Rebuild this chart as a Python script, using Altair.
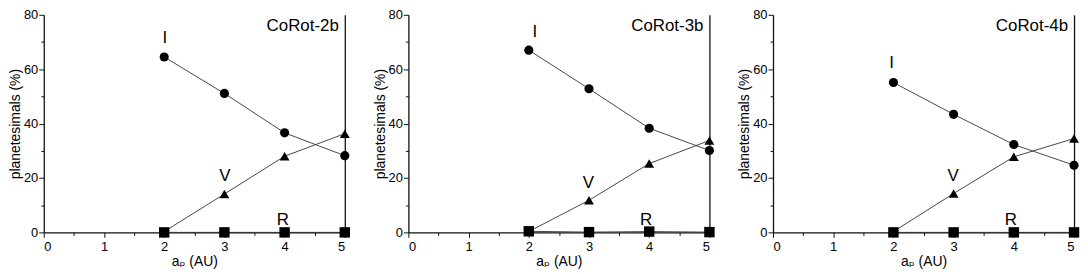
import altair as alt
import pandas as pd

# ---------------- data ----------------
panels = ["CoRot-2b", "CoRot-3b", "CoRot-4b"]
ap = [2, 3, 4, 5]
series = ["I", "V", "R"]
I_vals = [[64.5, 51.1, 36.6, 28.2], [67.0, 52.8, 38.3, 30.1], [55.1, 43.4, 32.3, 24.7]]
V_vals = [[0.3, 14.1, 28.0, 36.3], [0.3, 11.8, 25.3, 33.8], [0.3, 14.3, 27.8, 34.5]]
R_vals = [[0.0, 0.0, 0.0, 0.0], [0.4, 0.1, 0.3, 0.1], [0.0, 0.0, 0.0, 0.0]]
label_x = [[2.01, 3.01, 3.97], [2.10, 2.99, 3.95], [1.97, 2.99, 3.95]]
label_y = [[69.6, 18.8, 2.6], [72.0, 16.4, 2.6], [60.3, 18.8, 2.6]]
x_ticks = [0, 0.5, 1, 1.5, 2, 2.5, 3, 3.5, 4, 4.5, 5]
y_ticks = [0, 10, 20, 30, 40, 50, 60, 70, 80]
X_DOMAIN = [0, 5]
Y_DOMAIN = [0, 80]

FONT = "Liberation Sans, Arial, DejaVu Sans"
W, H = 303, 219


def panel_chart(k):
    rows = []
    for s, vals in (("R", R_vals), ("V", V_vals), ("I", I_vals)):
        for x, y in zip(ap, vals[k]):
            rows.append({"series": s, "ap": x, "pct": y})
    df = pd.DataFrame(rows)
    lab = pd.DataFrame({"series": series, "x": label_x[k], "y": label_y[k]})
    ttl = pd.DataFrame({"name": [panels[k]]})

    xs = alt.Scale(domain=X_DOMAIN, nice=False, zero=False)
    ys = alt.Scale(domain=Y_DOMAIN, nice=False)

    x_axis = alt.Axis(
        values=x_ticks,
        labelExpr="datum.value % 1 === 0 ? '' + datum.value : ''",
        tickSize={"condition": {"test": "datum.value % 1 === 0", "value": 5}, "value": 3},
        title="aₚ (AU)",
        labelPadding=3,
        titlePadding=1,
    )
    y_axis = alt.Axis(
        values=y_ticks,
        labelExpr="datum.value % 20 === 0 ? '' + datum.value : ''",
        tickSize={"condition": {"test": "datum.value % 20 === 0", "value": 5}, "value": 3},
        title="planetesimals (%)",
        labelPadding=1,
        titlePadding=1,
    )

    def X(field):
        return alt.X(field, type="quantitative", scale=xs, axis=x_axis)

    lines = alt.Chart(df).mark_line(color="#333333", strokeWidth=0.9).encode(
        x=X("ap"),
        y=alt.Y("pct:Q", scale=ys, axis=y_axis),
        detail="series:N",
    )
    points = alt.Chart(df).mark_point(filled=True, color="black", opacity=1).encode(
        x=X("ap"),
        y=alt.Y("pct:Q", scale=ys, axis=None),
        shape=alt.Shape("series:N", scale=alt.Scale(domain=series, range=["circle", "triangle-up", "square"]), legend=None),
        size=alt.Size("series:N", scale=alt.Scale(domain=series, range=[85, 110, 55]), legend=None),
    )
    right = alt.Chart(df).mark_point(opacity=0).encode(
        x=X("ap"),
        y=alt.Y("pct:Q", scale=ys, axis=alt.Axis(orient="right", labels=False, ticks=False, title=None)),
    )
    labels = alt.Chart(lab).mark_text(font=FONT, fontSize=17, baseline="alphabetic", align="center", color="black").encode(
        x=X("x"),
        y=alt.Y("y:Q", scale=ys, axis=None),
        text="series:N",
    )
    title = alt.Chart(ttl).mark_text(font=FONT, fontSize=17, baseline="alphabetic", align="right", dx=-6, dy=16, color="black").encode(
        x=alt.X(datum=X_DOMAIN[1], type="quantitative", scale=xs, axis=x_axis),
        y=alt.Y(datum=Y_DOMAIN[1], type="quantitative", scale=ys, axis=None),
        text="name:N",
    )
    return alt.layer(lines, right, points, labels, title).resolve_axis(y="independent").properties(width=W, height=H)


chart = alt.hconcat(*[panel_chart(k) for k in range(3)], spacing=22).properties(
    padding={"left": 0, "top": 0, "right": 0, "bottom": 0}
).configure_view(stroke=None).configure_axis(
    grid=False,
    domainColor="#111111",
    domainWidth=1.3,
    tickColor="#111111",
    tickWidth=1,
    labelFont=FONT,
    labelFontSize=13,
    labelColor="black",
    titleFont=FONT,
    titleFontSize=14,
    titleFontWeight="normal",
    titleColor="black",
)

chart.save("out.html", embed_options={"renderer": "svg", "actions": False})
